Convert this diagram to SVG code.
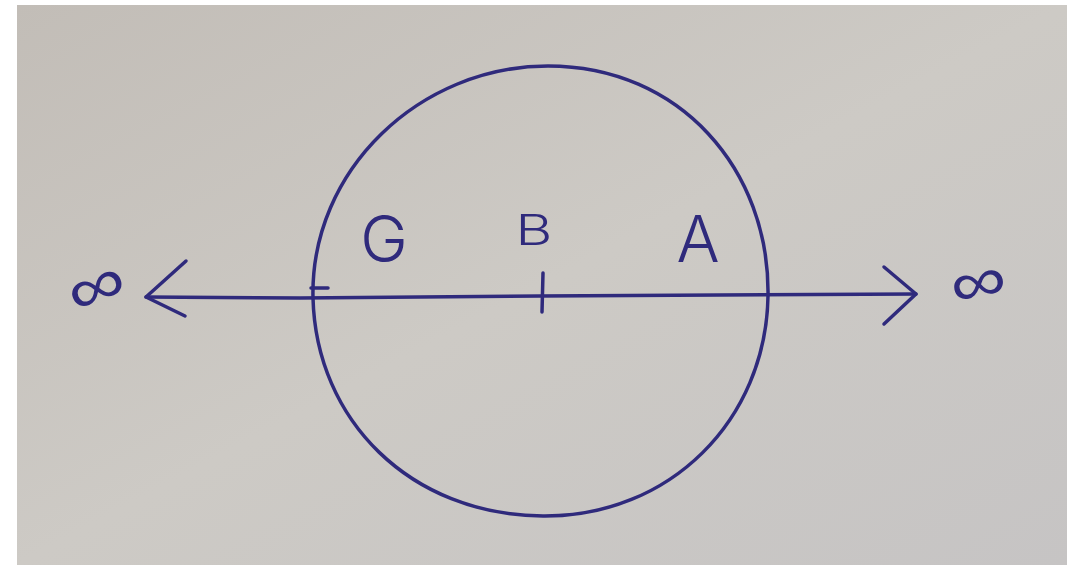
<svg xmlns="http://www.w3.org/2000/svg" width="1077" height="572" viewBox="0 0 1077 572">
<style>
.ink{fill:none;stroke:#2f2a7c;stroke-width:3.5;stroke-linecap:round;stroke-linejoin:round}
.lbl{font-family:Inter,"Liberation Sans","DejaVu Sans",sans-serif;font-weight:300;fill:#2f2a7c;text-anchor:middle}
.inf{font-family:"DejaVu Sans","Liberation Sans",sans-serif;font-weight:300;fill:#2f2a7c;text-anchor:middle}
</style>
<defs>
<linearGradient id="bg" x1="0" y1="0" x2="1" y2="1">
<stop offset="0" stop-color="#c2bdb7"/>
<stop offset="0.5" stop-color="#cdcac5"/>
<stop offset="1" stop-color="#c6c4c4"/>
</linearGradient>
</defs>
<rect x="0" y="0" width="1077" height="572" fill="#ffffff"/>
<rect x="17" y="5" width="1050" height="560" fill="url(#bg)"/>
<g id="circle">
<path class="ink" d="M313,298 C310,170 420,66 548,66 C680,66 770,170 768,296 C766,420 670,517 543,516 C410,515 316,420 313,298 Z"/>
</g>
<g id="connectors">
<path class="ink" d="M146,297 L300,298 L540,296 L916,294"/>
<path class="ink" d="M186,261 L146,297 L185,316"/>
<path class="ink" d="M884,267 L916,294 L884,324"/>
<path class="ink" d="M543,273 L542,312"/>
<path class="ink" d="M311,288 L328,288"/>
</g>
<g id="label-G"><text class="lbl" x="384" y="262" font-size="64">G</text></g>
<g id="label-B"><text class="lbl" transform="translate(534,245) scale(1.35,1)" x="0" y="0" font-size="42">B</text></g>
<g id="label-A"><text class="lbl" x="698" y="262" font-size="64">A</text></g>
<g id="inf-left"><text class="inf" transform="translate(96,287) rotate(-22) scale(1.45,1.15)" x="0" y="18" font-size="56">∞</text></g>
<g id="inf-right"><text class="inf" transform="translate(978,282) rotate(-12) scale(1.45,1.15)" x="0" y="18" font-size="54">∞</text></g>
</svg>
